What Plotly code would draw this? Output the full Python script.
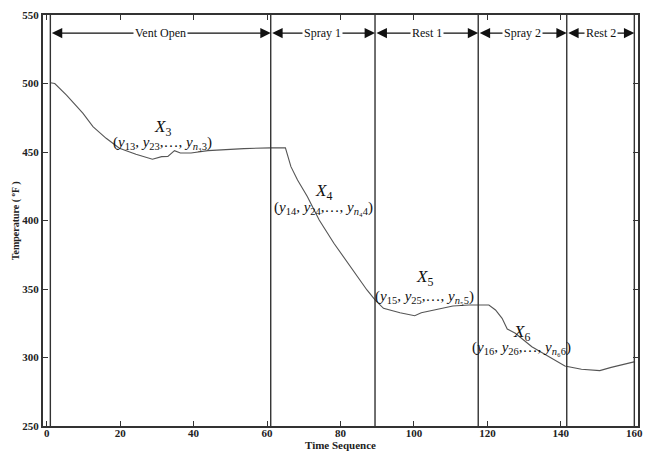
import plotly.graph_objects as go

# ---- data ----
time_seq = [1, 2.2, 5.4, 9.9, 12.6, 16.2, 19.8, 24.3, 28.8, 31.3, 33.0, 34.8, 36.4, 39.3,
            43.9, 53.7, 61.0, 65.0, 66.5, 68.3, 71.0, 74.2, 78.2, 82.7, 87.2, 89.4, 91.7,
            96.2, 100.2, 102.0, 106.0, 110.6, 115.0, 120.4, 122.2, 124.0, 125.4, 127.6,
            132.1, 136.6, 141.1, 145.6, 150.6, 153.7, 157.3, 160.2]
temperature = [500.5, 500, 491.6, 478.2, 468.5, 460, 452.7, 448.3, 444.7, 446.6, 446.8, 451.0,
               449.3, 449.3, 451.0, 452.5, 453.0, 453.0, 439.3, 429.6, 417.4, 400.4, 383.4,
               366.3, 349.3, 342.0, 335.9, 332.7, 330.5, 332.7, 335.2, 337.6, 338.3, 338.3,
               334.7, 328.6, 320.8, 317.7, 307.9, 300.6, 293.8, 291.4, 290.4, 292.8, 295.3, 297.0]

phase_bounds = [1, 61, 89.4, 117.5, 141.6, 160]
phase_names = ["Vent Open", "Spray 1", "Rest 1", "Spray 2", "Rest 2"]

label_x = [31.5, 75.5, 102.8, 129.3]
label_title_y = [467.5, 421, 358, 318]
label_tuple_y = [456.8, 408.9, 344.4, 306.7]
label_idx = ["3", "4", "5", "6"]

x_ticks = [0, 20, 40, 60, 80, 100, 120, 140, 160]
y_ticks = [250, 300, 350, 400, 450, 500, 550]

SERIF = "Liberation Serif"
DARK = "#333333"

fig = go.Figure()
fig.add_trace(go.Scatter(x=time_seq, y=temperature, mode="lines",
                         line=dict(color="#555555", width=1.1), showlegend=False,
                         hoverinfo="skip"))

# vertical phase boundaries
for b in phase_bounds:
    fig.add_shape(type="line", x0=b, x1=b, y0=250, y1=550, xref="x", yref="y",
                  line=dict(color=DARK, width=1.4))

arrow_y = 536.8
# double-headed arrows
for i in range(len(phase_names)):
    x0, x1 = phase_bounds[i], phase_bounds[i + 1]
    fig.add_annotation(x=x1, y=arrow_y, ax=x0, ay=arrow_y, xref="x", yref="y",
                       axref="x", ayref="y", text="", showarrow=True,
                       arrowhead=2, startarrowhead=2, arrowside="end+start",
                       arrowsize=1.6, startarrowsize=1.6, arrowwidth=1.3,
                       arrowcolor="#111111", standoff=0, startstandoff=0)
# phase labels
for i, name in enumerate(phase_names):
    xm = (phase_bounds[i] + phase_bounds[i + 1]) / 2
    fig.add_annotation(x=xm, y=arrow_y, xref="x", yref="y", text=name, showarrow=False,
                       bgcolor="white", borderpad=1,
                       font=dict(family=SERIF, size=12, color="#111111"))

# segment labels
for i in range(len(label_idx)):
    k = label_idx[i]
    fig.add_annotation(x=label_x[i], y=label_title_y[i], xref="x", yref="y",
                       text="<i>X</i><sub>" + k + "</sub>", showarrow=False,
                       font=dict(family=SERIF, size=17, color="#111111"))
    tup = ("(<i>y</i><sub>1" + k + "</sub>, <i>y</i><sub>2" + k + "</sub>,…, <i>y</i>"
           "<sub><i>n</i>" + chr(0x2080 + int(k)) + k + "</sub>)")
    fig.add_annotation(x=label_x[i], y=label_tuple_y[i], xref="x", yref="y",
                       text=tup, showarrow=False,
                       font=dict(family=SERIF, size=15, color="#111111"))

# axis titles
fig.add_annotation(x=0.5, y=0, xref="paper", yref="paper", yanchor="top", yshift=-12,
                   text="<b>Time Sequence</b>", borderpad=0,
                   showarrow=False, font=dict(family=SERIF, size=11, color="#222222"))
fig.add_annotation(x=-0.06, y=0.5, xref="paper", yref="paper",
                   text="<b>Temperature ( <sup>o</sup>F )</b>", textangle=-90,
                   showarrow=False, font=dict(family=SERIF, size=10, color="#222222"))

fig.update_xaxes(range=[-1, 161], tickvals=x_ticks, ticks="inside", ticklen=5,
                 tickwidth=1.4, tickcolor=DARK, showline=True, linecolor=DARK,
                 linewidth=2, mirror="ticks", showgrid=False, zeroline=False,
                 ticklabelstandoff=-4,
                 tickfont=dict(family=SERIF, size=11, color="#222222", weight="bold"))
fig.update_yaxes(range=[250, 550], tickvals=y_ticks, ticks="inside", ticklen=5,
                 tickwidth=1.4, tickcolor=DARK, showline=True, linecolor=DARK,
                 linewidth=2, mirror="ticks", showgrid=False, zeroline=False,
                 tickfont=dict(family=SERIF, size=11, color="#222222", weight="bold"))

fig.update_layout(width=649, height=451, margin=dict(l=43, r=6, t=15, b=25),
                  plot_bgcolor="white", paper_bgcolor="white", showlegend=False)

fig.write_html("out.html", config={"displayModeBar": False},
               post_script="document.body.style.margin='0';document.body.style.overflow='hidden';")
